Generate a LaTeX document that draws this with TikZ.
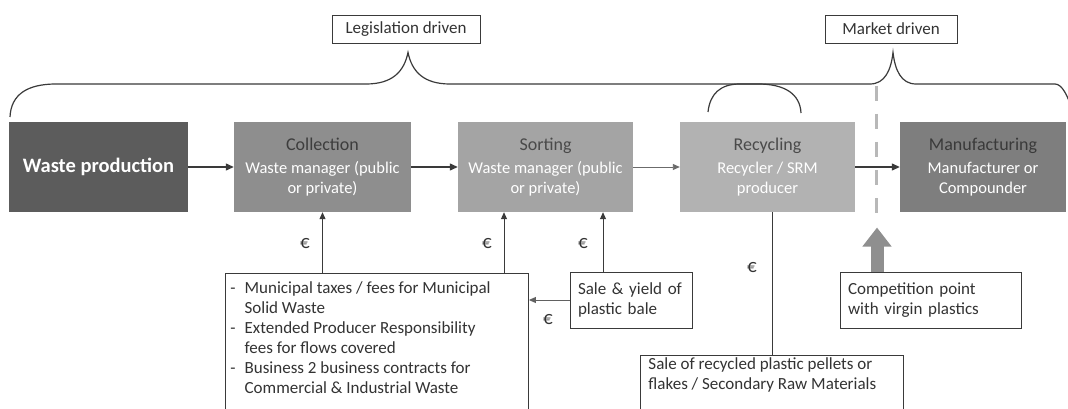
\documentclass[tikz,border=0pt]{standalone}
\usepackage{fontspec}
\setmainfont{Carlito}
\usetikzlibrary{calc,arrows.meta}
\definecolor{wpfill}{HTML}{5C5C5C}
\definecolor{colfill}{HTML}{8E8E8E}
\definecolor{sorfill}{HTML}{A4A4A4}
\definecolor{recfill}{HTML}{B2B2B2}
\definecolor{manfill}{HTML}{7E7E7E}
\definecolor{colhd}{HTML}{3D3D3D}
\definecolor{sorhd}{HTML}{4A4A4A}
\definecolor{rechd}{HTML}{4A4A4A}
\definecolor{manhd}{HTML}{3A3A3A}
\definecolor{linec}{HTML}{3A3A3A}
\definecolor{txtc}{HTML}{333333}
\definecolor{dashc}{HTML}{B8B8B8}
\definecolor{bigarrc}{HTML}{8F8F8F}
\newcommand{\stagehead}[2]{{\color{#1}\fontsize{18}{20}\selectfont #2}}
\begin{document}
\begin{tikzpicture}[x=1pt,y=-1pt,
  stage/.style={rectangle, minimum width=#1, minimum height=90pt, inner sep=0pt,
    align=center, font=\fontsize{16.5}{20}\selectfont, text=white},
  lbl/.style={draw=linec, line width=0.9pt, rectangle, minimum height=28pt, inner sep=0pt,
    font=\fontsize{17}{20}\selectfont, text=txtc},
  callout/.style={draw=linec, line width=0.9pt, rectangle, inner sep=0pt,
    font=\fontsize{17}{20}\selectfont, text=txtc},
  arr/.style={draw=linec, line width=1.2pt, -{Triangle[length=8pt,width=7pt]}},
  arrthin/.style={draw=linec, line width=0.9pt, -{Triangle[length=7pt,width=6pt]}},
  plain/.style={draw=linec, line width=0.9pt},
  brace/.style={draw=linec, line width=1.2pt},
  dashline/.style={draw=dashc, line width=3pt, dash pattern=on 15pt off 13pt},
  bigarr/.style={draw=bigarrc, line width=13pt, -{Triangle[length=19pt,width=28pt]}},
  euro/.style={font=\fontsize{19}{20}\selectfont, text=txtc, inner sep=0pt}]
\clip (0,0) rectangle (1068,409);
\fill[white] (0,0) rectangle (1068,409);

% stages
\node[stage=179, fill=wpfill, font=\bfseries\fontsize{20.5}{22}\selectfont] (wp) at (98.5,167) {Waste production};
\node[stage=177, fill=colfill] (col) at (322.5,167) {\stagehead{colhd}{Collection}\\[3pt]Waste manager (public\\or private)};
\node[stage=175, fill=sorfill] (sor) at (545.5,167) {\stagehead{sorhd}{Sorting}\\[3pt]Waste manager (public\\or private)};
\node[stage=175, fill=recfill] (rec) at (767.5,167) {\stagehead{rechd}{Recycling}\\[3pt]Recycler / SRM\\producer};
\node[stage=166, fill=manfill] (man) at (983,167) {\stagehead{manhd}{Manufacturing}\\[3pt]Manufacturer or\\Compounder};

% flow arrows
\draw[arr] (wp) -- (col);
\draw[arr] (col) -- (sor);
\draw[arrthin, draw=linec!75] (sor) -- (rec);
\draw[arr] (rec) -- (man);

% top labels and braces
\node[lbl, minimum width=148pt] (leg) at (406,29) {Legislation driven};
\node[lbl, minimum width=132pt] (mkt) at (891,29) {Market driven};
\coordinate (legtip) at ($(leg.south)+(2,9)$);
\coordinate (mkttip) at ($(mkt.south)+(2,9)$);
\draw[brace] (10,117) .. controls (11,94) and (28,84) .. (56,84) -- (366,84)
  .. controls (392,84) and (404,72) .. (legtip)
  .. controls (412,72) and (424,84) .. (450,84) -- (758,84)
  .. controls (785,84) and (800,94) .. (801,113);
\draw[brace] (708,112) .. controls (710,94) and (720,84) .. (740,84) -- (870,84)
  .. controls (885,84) and (891,70) .. (mkttip)
  .. controls (895,70) and (901,84) .. (916,84) -- (1055,84)
  .. controls (1062,84) and (1068,96) .. (1072,110);

% dashed competition line
\coordinate (dtop) at (876,86);
\coordinate (dbot) at (876,222);
\draw[dashline] (dtop) -- (dbot);

% callouts
\node[callout, anchor=north west] (mun) at (225,273) {\parbox[t][150pt][t]{303pt}{\vspace*{6pt}\hspace*{5pt}\begin{tabular}{@{}l@{\hspace{9pt}}l@{}}-&Municipal taxes / fees for Municipal\\ &Solid Waste\\ -&Extended Producer Responsibility\\ &fees for flows covered\\ -&Business 2 business contracts for\\ &Commercial \& Industrial Waste\end{tabular}}};
\node[callout, text width=106pt, align=left, minimum height=56pt, inner xsep=8pt] (sale) at (631,300) {Sale \& yield of\\plastic bale};
\node[callout, anchor=north west] (rsale) at (640,355) {\parbox[t][70pt][t]{263pt}{\leftskip=8pt\vspace*{2pt}Sale of recycled plastic pellets or\\flakes / Secondary Raw Materials}};
\node[callout, text width=165pt, align=left, minimum height=56pt, inner xsep=8pt] (comp) at (930.5,300) {Competition point\\with virgin plastics};

% money flows
\coordinate (s1) at ([xshift=-41.5pt]sor.south);
\coordinate (s2) at ([xshift=57.5pt]sor.south);
\coordinate (r1) at ([xshift=4.5pt]rec.south);
\draw[arrthin] (col.south |- mun.north) -- (col.south);
\draw[arrthin] (s1 |- mun.north) -- (s1);
\draw[arrthin] (s2 |- sale.north) -- (s2);
\draw[plain] (r1 |- rsale.north) -- (r1);
\draw[arrthin, draw=linec!80] (sale.west) -- (sale.west -| mun.east);

\node[euro] (e1) at (305,244) {€};
\node[euro] (e2) at (487,244) {€};
\node[euro] (e3) at (583,244) {€};
\node[euro] (e4) at (548,320) {€};
\node[euro] (e5) at (752,268) {€};

% competition arrow
\coordinate (cbase) at ([xshift=-53.5pt]comp.north);
\coordinate (ctip) at ($(cbase)+(0,-44)$);
\draw[bigarr] (cbase) -- (ctip);
\end{tikzpicture}
\end{document}
